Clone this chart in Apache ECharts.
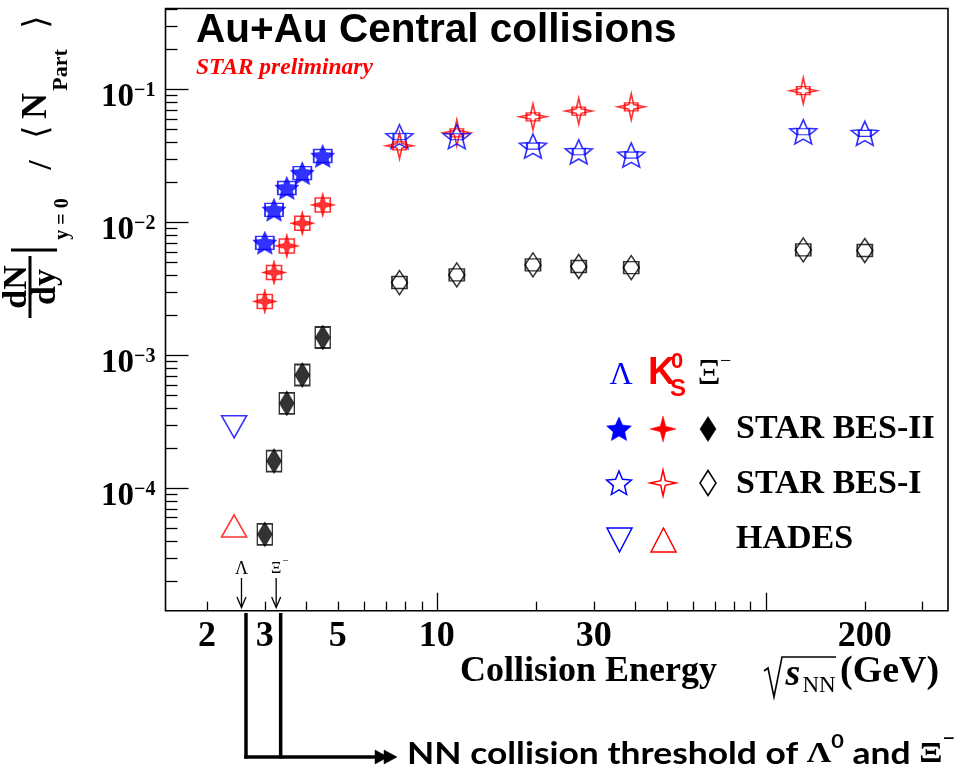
<!DOCTYPE html>
<html><head><meta charset="utf-8">
<script src="https://cdn.jsdelivr.net/npm/echarts@6/dist/echarts.min.js"></script>
<style>html,body{margin:0;padding:0;background:#fff}#c{width:970px;height:781px}</style>
</head><body><div id="c"></div>
<script>
// ---------------- data ----------------
const energyBES2 = [3.0, 3.2, 3.5, 3.9, 4.5];
const lambdaBES2 = [0.0070, 0.0124, 0.0181, 0.0234, 0.0315];
const k0sBES2    = [0.00254, 0.00419, 0.00664, 0.00983, 0.0135];
const xiBES2     = [4.5e-5, 1.6e-4, 4.35e-4, 7.1e-4, 1.36e-3];

const energyBES1 = [7.7, 11.5, 19.6, 27, 39, 130, 200];
const lambdaBES1 = [0.0440, 0.0440, 0.0374, 0.0339, 0.0320, 0.0479, 0.0466];
const k0sBES1    = [0.0376, 0.0471, 0.0621, 0.0686, 0.0738, 0.0975, null];
const xiBES1     = [0.00352, 0.00402, 0.00478, 0.00465, 0.00456, 0.00620, 0.00613];

const energyHADES = [2.42];
const lambdaHADES = [2.9e-4];
const k0sHADES    = [5.2e-5];

const thresholdEnergies = [2.548, 3.248];   // NN thresholds of Lambda and Xi-
const thresholdNames = ['Λ', 'Ξ'];

// axis ticks / labels
const xLabelValues = [2, 3, 5, 10, 30, 200];
const xMinorTicks = [2, 3, 4, 5, 6, 7, 8, 9, 20, 30, 40, 50, 60, 70, 80, 90, 200, 300];
const xMajorTicks = [10, 100];
const yMajorTicks = [1e-4, 1e-3, 1e-2, 1e-1];
const yMinorTicks = [2e-5, 3e-5, 4e-5, 5e-5, 6e-5, 7e-5, 8e-5, 9e-5,
                     2e-4, 3e-4, 4e-4, 5e-4, 6e-4, 7e-4, 8e-4, 9e-4,
                     2e-3, 3e-3, 4e-3, 5e-3, 6e-3, 7e-3, 8e-3, 9e-3,
                     2e-2, 3e-2, 4e-2, 5e-2, 6e-2, 7e-2, 8e-2, 9e-2,
                     0.2, 0.3, 0.4];
const xRange = [1.497, 358];
const yRange = [1.2e-5, 0.405];

// ---------------- styling helpers ----------------
const SERIF = '"Liberation Serif", "Times New Roman", serif';
const SANS = '"Liberation Sans", Arial, sans-serif';
const BLUE = '#0000ff', RED = '#ff0000', BLACK = '#000000';

function starPath(n, inner) {
  let d = '';
  for (let i = 0; i < 2 * n; i++) {
    const r = i % 2 ? inner : 1;
    const a = -Math.PI / 2 + i * Math.PI / n;
    d += (i ? 'L' : 'M') + (r * Math.cos(a)).toFixed(3) + ',' + (r * Math.sin(a)).toFixed(3);
  }
  return 'path://' + d + 'Z';
}
const STAR5 = starPath(5, 0.47);
const STAR5_OPEN = starPath(5, 0.45);
const STAR4 = starPath(4, 0.3);
const STAR4_OPEN = starPath(4, 0.25);

const pairs = (xs, ys) => xs.map((x, i) => [x, ys[i]]).filter(p => p[1] != null);

function marks(xs, ys, symbol, size, color, filled, extra) {
  return Object.assign({
    type: 'scatter', data: pairs(xs, ys), symbol, symbolSize: size,
    itemStyle: filled ? { color, borderColor: color, borderWidth: 0.5 }
                      : { color: 'rgba(0,0,0,0)', borderColor: color, borderWidth: 1.6 },
    emphasis: { disabled: true }, silent: true, z: 3, animation: false
  }, extra || {});
}
function boxes(xs, ys, size, color) {
  return {
    type: 'scatter', data: pairs(xs, ys), symbol: 'rect', symbolSize: size,
    itemStyle: { color: 'rgba(0,0,0,0)', borderColor: color, borderWidth: 1.6 },
    emphasis: { disabled: true }, silent: true, z: 4, animation: false
  };
}

const chart = echarts.init(document.getElementById('c'), null, { renderer: 'canvas' });

const axisCommonX = {
  type: 'log', logBase: 10, min: xRange[0], max: xRange[1], position: 'bottom',
  axisLine: { show: false }, splitLine: { show: false }
};
const axisCommonY = {
  type: 'log', logBase: 10, min: yRange[0], max: yRange[1], position: 'left',
  axisLine: { show: false }, splitLine: { show: false }
};

const option = {
  animation: false,
  backgroundColor: '#fff',
  grid: { left: 165.5, right: 22, top: 8.5, bottom: 170.3, show: true,
          borderColor: '#000', borderWidth: 1.6, backgroundColor: 'rgba(0,0,0,0)' },
  xAxis: [
    Object.assign({}, axisCommonX, {
      axisTick: { show: true, inside: true, length: 9, customValues: xMinorTicks, lineStyle: { color: '#000', width: 1.3 } },
      axisLabel: { show: true, customValues: xLabelValues, margin: 8, color: '#000',
                   fontFamily: SERIF, fontWeight: 'bold', fontSize: 36,
                   formatter: v => String(Math.round(v * 10) / 10) }
    }),
    Object.assign({}, axisCommonX, {
      axisTick: { show: true, inside: true, length: 18, customValues: xMajorTicks, lineStyle: { color: '#000', width: 1.3 } },
      axisLabel: { show: false }
    })
  ],
  yAxis: [
    Object.assign({}, axisCommonY, {
      axisTick: { show: true, inside: true, length: 12, customValues: yMinorTicks, lineStyle: { color: '#000', width: 1.3 } },
      axisLabel: { show: false }
    }),
    Object.assign({}, axisCommonY, {
      axisTick: { show: true, inside: true, length: 23, customValues: yMajorTicks, lineStyle: { color: '#000', width: 1.3 } },
      axisLabel: {
        show: true, customValues: yMajorTicks, margin: 10, padding: [16, 0, 0, 0],
        formatter: v => '{b|10}{s|−' + (-Math.round(Math.log10(v))) + '}',
        rich: {
          b: { fontFamily: SERIF, fontWeight: 'bold', fontSize: 33, lineHeight: 33, verticalAlign: 'bottom', color: '#000' },
          s: { fontFamily: SERIF, fontWeight: 'bold', fontSize: 20, lineHeight: 14, verticalAlign: 'top', color: '#000' }
        }
      }
    })
  ],
  series: [
    // HADES
    marks(energyHADES, lambdaHADES, 'triangle', [25, 22], BLUE, false, { symbolRotate: 180 }),
    marks(energyHADES, k0sHADES, 'triangle', [25, 22], RED, false),
    // STAR BES-II
    marks(energyBES2, xiBES2, 'diamond', [15, 25], BLACK, true),
    boxes(energyBES2, xiBES2, [15, 21], BLACK),
    marks(energyBES2, k0sBES2, STAR4, [25, 25], RED, true),
    boxes(energyBES2, k0sBES2, [15, 14], RED),
    marks(energyBES2, lambdaBES2, STAR5, [24, 23], BLUE, true),
    boxes(energyBES2, lambdaBES2, [18, 13], BLUE),
    // STAR BES-I
    marks(energyBES1, xiBES1, 'diamond', [16, 24], BLACK, false),
    boxes(energyBES1, xiBES1, [15, 12], BLACK),
    marks(energyBES1, k0sBES1, STAR4_OPEN, [27, 26], RED, false),
    boxes(energyBES1, k0sBES1, [13, 8], RED),
    marks(energyBES1, lambdaBES1, STAR5_OPEN, [27, 24], BLUE, false),
    boxes(energyBES1, lambdaBES1, [12, 6], BLUE)
  ]
};
chart.setOption(option);

// ---------------- decorations (text, legend, threshold arrows) ----------------
function txt(x, y, text, font, fill, align, extra) {
  return Object.assign({
    type: 'text', x, y, silent: true, z: 20,
    style: { text, font, fill: fill || '#000', align: align || 'left', verticalAlign: 'middle' }
  }, extra || {});
}
function line(x1, y1, x2, y2, w, color) {
  return { type: 'line', silent: true, z: 20, shape: { x1, y1, x2, y2 }, style: { stroke: color || '#000', lineWidth: w } };
}
function poly(points, color, filled, w) {
  return { type: 'polygon', silent: true, z: 20, shape: { points },
           style: filled ? { fill: color, stroke: color, lineWidth: 0.5 } : { fill: 'none', stroke: color, lineWidth: w || 1.5 } };
}
function starPts(cx, cy, R, ratio, n) {
  const pts = [];
  for (let i = 0; i < 2 * n; i++) {
    const r = (i % 2 ? ratio : 1) * R;
    const a = -Math.PI / 2 + i * Math.PI / n;
    pts.push([cx + r * Math.cos(a), cy + r * Math.sin(a)]);
  }
  return pts;
}
const diamondPts = (cx, cy, hw, hh) => [[cx, cy - hh], [cx + hw, cy], [cx, cy + hh], [cx - hw, cy]];

const ctx = document.createElement('canvas').getContext('2d');
function measure(text, font) { ctx.font = font; return ctx.measureText(text).width; }

const g = [];
// title
g.push(txt(196, 31, 'Au+Au Central collisions', 'bold 40.5px ' + SANS));
g.push(txt(196, 67.5, 'STAR preliminary', 'italic bold 23.5px ' + SERIF, RED));

// y-axis title (rotated, reads bottom-to-top)
const ROT = { rotation: Math.PI / 2 };
g.push(line(30, 256, 30, 318, 3));
g.push(txt(17, 287, 'dN', 'bold 34px ' + SERIF, '#000', 'center', ROT));
g.push(txt(46, 287, 'dy', 'bold 34px ' + SERIF, '#000', 'center', ROT));
g.push(line(11, 250, 57, 250, 3));
g.push(txt(63, 219, 'y = 0', 'bold 20px ' + SERIF, '#000', 'center', ROT));
g.push(txt(42, 165, '/', 'bold 34px ' + SERIF, '#000', 'center', ROT));
g.push(txt(38, 132, '⟨', '34px "DejaVu Serif", serif', '#000', 'center', ROT));
g.push(txt(37, 106, 'N', 'bold 36px ' + SERIF, '#000', 'center', ROT));
g.push(txt(61, 70, 'Part', 'bold 22px ' + SERIF, '#000', 'center', ROT));
g.push(txt(38, 22, '⟩', '34px "DejaVu Serif", serif', '#000', 'center', ROT));

// x-axis title
g.push(txt(460, 671.5, 'Collision Energy', 'bold 36px ' + SERIF));
g.push({ type: 'polyline', silent: true, z: 20,
         shape: { points: [[764, 671], [768, 668], [774, 697], [782, 657], [836, 657]] },
         style: { stroke: '#000', lineWidth: 1.6, fill: 'none' } });
g.push(txt(793, 675, 's', 'italic bold 38px ' + SERIF, '#000', 'center'));
g.push(txt(819, 686, 'NN', '23px ' + SERIF, '#000', 'center'));
g.push(txt(840, 672, '(GeV)', 'bold 38px ' + SERIF));

// legend
g.push(txt(621, 376, 'Λ', '32px ' + SERIF, BLUE, 'center'));
g.push(txt(648, 374, 'K', 'bold 38px ' + SANS, RED));
g.push(txt(671, 362, '0', 'bold 22px ' + SANS, RED));
g.push(txt(670, 389, 'S', 'bold 24px ' + SANS, RED));
g.push(txt(709, 375, 'Ξ', '36px ' + SERIF, BLACK, 'center'));
g.push(txt(720, 362, '−', '20px ' + SERIF, BLACK));
const rows = [429, 483, 539];
const cols = [619, 663, 708];
g.push(poly(starPts(cols[0], rows[0] + 1, 13, 0.47, 5), BLUE, true));
g.push(poly(starPts(cols[1], rows[0], 13, 0.3, 4), RED, true));
g.push(poly(diamondPts(cols[2], rows[0], 8, 12.5), BLACK, true));
g.push(poly(starPts(cols[0], rows[1] + 1, 13, 0.45, 5), BLUE, false));
g.push(poly(starPts(cols[1], rows[1], 13, 0.25, 4), RED, false));
g.push(poly(diamondPts(cols[2], rows[1], 8, 12.5), BLACK, false));
g.push(poly([[607, 528], [632, 528], [619.5, 552]], BLUE, false));
g.push(poly([[651, 552], [676, 552], [663.5, 528]], RED, false));
g.push(txt(736, 429, 'STAR BES-II', 'bold 34px ' + SERIF));
g.push(txt(736, 484, 'STAR BES-I', 'bold 34px ' + SERIF));
g.push(txt(736, 539, 'HADES', 'bold 34px ' + SERIF));

// threshold arrows
const thrX = thresholdEnergies.map(e => chart.convertToPixel({ xAxisIndex: 0 }, e));
thrX.forEach((x, i) => {
  g.push(line(x, 578, x, 607, 1.3));
  g.push({ type: 'polyline', silent: true, z: 20, shape: { points: [[x - 4.5, 597], [x, 607.5], [x + 4.5, 597]] },
           style: { stroke: '#000', lineWidth: 1.3, fill: 'none' } });
  g.push(txt(x, 569, thresholdNames[i], (i ? '16px ' : '18px ') + SERIF, '#000', 'center'));
  if (i) g.push(txt(x + 6, 561, '−', '11px ' + SERIF));
  g.push(line(x + 4.5, 613, x + 4.5, 758.5, 3.5));
});
g.push(line(thrX[0] + 2.75, 757, 380, 757, 3.5));
g.push(poly([[375, 750], [388, 757], [375, 764]], '#000', true));
g.push(poly([[384, 750], [397, 757], [384, 764]], '#000', true));

// bottom annotation text
const LATO = 'Lato, "Open Sans", sans-serif';
const pieces = [
  { t: 'NN collision threshold of ', f: 'bold 31px ' + LATO, dy: 0 },
  { t: 'Λ', f: 'bold 30px ' + SERIF, dy: 0 },
  { t: '0', f: 'bold 19px ' + LATO, dy: -12 },
  { t: ' and ', f: 'bold 31px ' + LATO, dy: 0 },
  { t: 'Ξ', f: 'bold 30px ' + SERIF, dy: 0 },
  { t: '−', f: 'bold 19px ' + LATO, dy: -15 }
];
let cx = 0;
const kids = [];
pieces.forEach(p => {
  kids.push(txt(cx, p.dy, p.t, p.f));
  cx += measure(p.t, p.f);
});
g.push({ type: 'group', x: 407, y: 754, scaleX: 548 / cx, children: kids });

chart.setOption({ graphic: g });
</script>
</body></html>
